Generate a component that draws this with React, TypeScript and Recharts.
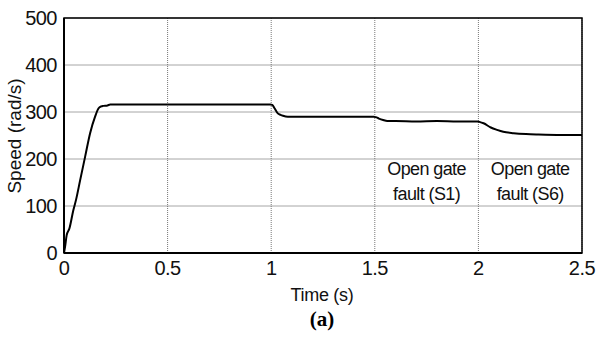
import React from 'react';
import { LineChart, Line, XAxis, YAxis, CartesianGrid, Label, ReferenceLine, ReferenceArea } from 'recharts';

const timeS = [0, 0.005, 0.013, 0.026, 0.045, 0.058, 0.078, 0.102, 0.126, 0.15, 0.167, 0.18, 0.19, 0.21, 0.223, 0.5, 0.8, 0.995, 1.005, 1.016, 1.032, 1.045, 1.057, 1.08, 1.2, 1.35, 1.495, 1.505, 1.52, 1.54, 1.56, 1.6, 1.7, 1.8, 1.9, 1.995, 2.005, 2.025, 2.06, 2.09, 2.12, 2.17, 2.23, 2.29, 2.4, 2.5];
const speed = [0, 13, 38, 52, 91, 113, 155, 205, 255, 290, 308, 312, 313, 314, 316, 316, 316, 316, 315, 308, 297, 294, 292, 290, 290, 290, 290, 289, 286, 283, 281, 281, 280, 281, 280, 280, 279, 276, 267, 262, 258, 255, 253, 252, 251, 251];

const xTicks = [0, 0.5, 1, 1.5, 2, 2.5];
const yTicks = [0, 100, 200, 300, 400, 500];
const annotations = [
  { x: 1.75, lines: ['Open gate', 'fault (S1)'] },
  { x: 2.25, lines: ['Open gate', 'fault (S6)'] },
];

const data = timeS.map((t, i) => ({ t, v: speed[i] }));
const FONT = '"Liberation Sans", Arial, sans-serif';

const fmtX = (v: number) => String(v);

export default function App() {
  return (
    <div style={{ position: 'absolute', left: 0, top: 0, width: 597, height: 337, background: '#fff' }}>
      <LineChart width={597} height={337} data={data} margin={{ top: 18, right: 15, left: 0, bottom: 54 }}>
        <CartesianGrid horizontal={true} vertical={false} stroke="#a6a6a6" strokeWidth={1} />
        <CartesianGrid horizontal={false} vertical={true} stroke="#777" strokeWidth={1} strokeDasharray="1 1" />
        <XAxis
          dataKey="t"
          type="number"
          domain={[0, 2.5]}
          ticks={xTicks}
          tickFormatter={fmtX}
          height={30}
          tickLine={false}
          axisLine={{ stroke: '#000', strokeWidth: 2 }}
          tick={{ fill: '#111', fontSize: 20, fontFamily: FONT, letterSpacing: -0.5 }}
          tickMargin={2}
          interval={0}
        />
        <YAxis
          type="number"
          domain={[0, 500]}
          ticks={yTicks}
          width={64}
          tickLine={false}
          axisLine={{ stroke: '#000', strokeWidth: 2 }}
          tick={{ fill: '#111', fontSize: 20, fontFamily: FONT, letterSpacing: -0.5 }}
          tickMargin={1}
          interval={0}
        />
        <ReferenceArea x1={0} x2={2.5} y1={0} y2={500} fill="none" stroke="#000" strokeWidth={1.5} ifOverflow="visible" />
        <Line
          type="monotone"
          dataKey="v"
          stroke="#000"
          strokeWidth={2}
          dot={false}
          isAnimationActive={false}
        />
        {annotations.map((a) => (
          <ReferenceLine key={a.x} x={a.x} stroke="none" ifOverflow="visible">
            <Label
              content={(props: any) => {
                const vb = props.viewBox || {};
                const cx = vb.x;
                const top = vb.y;
                return (
                  <text x={cx} y={top + 157} textAnchor="middle" fontSize={18} fontFamily={FONT} fill="#111" letterSpacing={-0.6}>
                    <tspan x={cx} dy={0}>{a.lines[0]}</tspan>
                    <tspan x={cx} dy={25}>{a.lines[1]}</tspan>
                  </text>
                );
              }}
            />
          </ReferenceLine>
        ))}
      </LineChart>
      <div style={{ position: 'absolute', left: 0, top: 0, width: 597, height: 337, pointerEvents: 'none' }}>
        <svg width={597} height={337}>
          <text x={14} y={136} transform="rotate(-90 14 136)" textAnchor="middle" dominantBaseline="central" fontSize={19} fontFamily={FONT} fill="#111">Speed (rad/s)</text>
          <text x={322} y={301} textAnchor="middle" fontSize={18} fontFamily={FONT} fill="#111" letterSpacing={-0.3}>Time (s)</text>
          <text x={322} y={326} textAnchor="middle" fontSize={21} fontWeight="bold" fontFamily='"Liberation Serif", "Times New Roman", serif' fill="#000">(a)</text>
        </svg>
      </div>
    </div>
  );
}
